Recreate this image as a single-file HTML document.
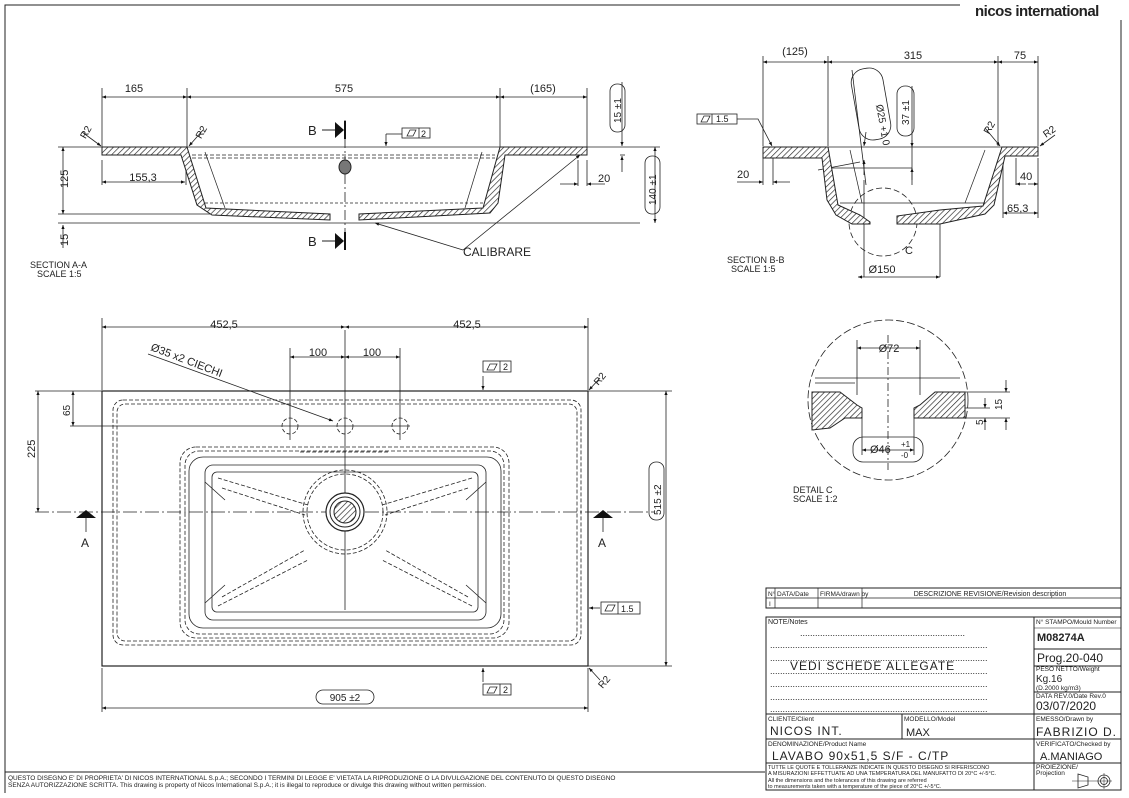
<!DOCTYPE html>
<html><head><meta charset="utf-8"><style>
html,body{margin:0;padding:0;background:#fff;}
svg{display:block;}
text{font-family:"Liberation Sans",sans-serif;fill:#222;}
</style></head><body>
<svg width="1129" height="798" viewBox="0 0 1129 798" xmlns="http://www.w3.org/2000/svg">
<defs>
<pattern id="h" width="4" height="4" patternUnits="userSpaceOnUse" patternTransform="rotate(45)"><rect width="4" height="4" fill="#fff"/><line x1="0" y1="0" x2="0" y2="4" stroke="#222" stroke-width="1.3"/></pattern>
<marker id="a" viewBox="0 0 10 10" refX="10" refY="5" markerWidth="7" markerHeight="5" orient="auto-start-reverse"><path d="M0,1 L10,5 L0,9z" fill="#111"/></marker>
</defs>
<g stroke="#222" fill="none" stroke-width="1">
<path d="M5,793 V5 H960"/>
<path d="M1121,20 V770"/>
<line x1="5" y1="772" x2="765" y2="772"/>
</g>
<text x="975" y="16" font-size="15" font-weight="bold" style="letter-spacing:-0.5px">nicos international</text>

<!-- ===== SECTION A-A ===== -->
<g stroke="#222" stroke-width="0.8" fill="none">
<line x1="102" y1="88" x2="102" y2="150"/><line x1="187" y1="88" x2="187" y2="150"/><line x1="500" y1="88" x2="500" y2="150"/><line x1="587" y1="88" x2="587" y2="150"/>
<line x1="102" y1="97" x2="187" y2="97" marker-start="url(#a)" marker-end="url(#a)"/>
<line x1="187" y1="97" x2="500" y2="97" marker-start="url(#a)" marker-end="url(#a)"/>
<line x1="500" y1="97" x2="587" y2="97" marker-start="url(#a)" marker-end="url(#a)"/>
<line x1="102" y1="182" x2="185" y2="182" marker-start="url(#a)" marker-end="url(#a)"/>
<line x1="102" y1="160" x2="102" y2="185"/><line x1="186" y1="160" x2="186" y2="185"/>
<line x1="58" y1="147" x2="102" y2="147"/><line x1="58" y1="214" x2="210" y2="214"/><line x1="58" y1="223" x2="640" y2="223"/>
<line x1="63" y1="147" x2="63" y2="214" marker-start="url(#a)" marker-end="url(#a)"/>
<line x1="63" y1="225" x2="63" y2="248" marker-start="url(#a)"/>
<line x1="587" y1="147" x2="660" y2="147"/>
<line x1="655" y1="147" x2="655" y2="223" marker-start="url(#a)" marker-end="url(#a)"/>
<line x1="620" y1="155" x2="625" y2="155"/>
<line x1="622" y1="82" x2="622" y2="146" marker-end="url(#a)"/><line x1="622" y1="172" x2="622" y2="156" marker-end="url(#a)"/>
<line x1="578" y1="160" x2="578" y2="186"/><line x1="587" y1="160" x2="587" y2="186"/>
<line x1="560" y1="184" x2="578" y2="184" marker-end="url(#a)"/><line x1="605" y1="184" x2="587" y2="184" marker-end="url(#a)"/>
<line x1="345" y1="120" x2="345" y2="250" stroke-dasharray="10,3,2,3"/>
<line x1="82" y1="132" x2="101" y2="146" marker-end="url(#a)"/><line x1="203" y1="130" x2="189" y2="146" marker-end="url(#a)"/>
<path d="M386,134 V146" marker-end="url(#a)"/><line x1="386" y1="134" x2="402" y2="134"/>
<path d="M463,250 L375,223" marker-end="url(#a)"/><path d="M463,250 L580,155" marker-end="url(#a)"/>
<rect x="402" y="128" width="28" height="10"/><line x1="419" y1="128" x2="419" y2="138"/>
<path d="M407,136 L410,130 H416 L413,136z"/>
<rect x="610" y="84" width="15" height="48" rx="7"/><rect x="645" y="156" width="15" height="58" rx="7"/>
</g>
<path d="M102,147 H187 L206,208 L330,214 L330,220 L212,215 L197,205 L181,155 H102z" fill="url(#h)" stroke="#222" stroke-width="1"/>
<path d="M587,147 H500 L483,208 L359,214 L359,220 L490,213 L498,203 L505,155 H587z" fill="url(#h)" stroke="#222" stroke-width="1"/>
<g stroke="#222" stroke-width="0.7" fill="none">
<line x1="187" y1="147" x2="500" y2="147"/>
<path d="M192,155 H495" stroke-dasharray="4,2"/><path d="M192,158 H495" stroke-dasharray="4,2"/>
<line x1="205" y1="152" x2="225" y2="208"/><line x1="482" y1="152" x2="465" y2="208"/>
<line x1="205" y1="203" x2="485" y2="203" stroke-dasharray="3,2"/>
</g>
<ellipse cx="345" cy="167" rx="6" ry="7" fill="#777" stroke="#222"/>
<path d="M335,122 L344,130 L335,138z" fill="#111"/><line x1="345" y1="121" x2="345" y2="139" stroke="#111" stroke-width="2"/><line x1="322" y1="130" x2="335" y2="130" stroke="#222"/>
<path d="M335,233 L344,241 L335,249z" fill="#111"/><line x1="345" y1="232" x2="345" y2="250" stroke="#111" stroke-width="2"/><line x1="322" y1="241" x2="335" y2="241" stroke="#222"/>
<g font-size="11">
<text x="134" y="92" text-anchor="middle">165</text><text x="344" y="92" text-anchor="middle">575</text><text x="543" y="92" text-anchor="middle">(165)</text>
<text x="143" y="181" text-anchor="middle">155,3</text>
<text x="598" y="182">20</text>
<text x="463" y="256" font-size="12">CALIBRARE</text>
<text x="308" y="135" font-size="13">B</text><text x="308" y="246" font-size="13">B</text>
<text x="421" y="137" font-size="9">2</text>
<text x="83" y="135" font-size="10" transform="rotate(-60 88 135)">R2</text>
<text x="195" y="137" font-size="10" transform="rotate(-60 200 133)">R2</text>
<text x="68" y="188" transform="rotate(-90 68 188)">125</text>
<text x="68" y="246" transform="rotate(-90 68 246)">15</text>
<text x="621" y="123" transform="rotate(-90 621 123)" font-size="10">15 ±1</text>
<text x="656" y="205" transform="rotate(-90 656 205)" font-size="10">140 ±1</text>
<text x="30" y="268" font-size="9">SECTION A-A</text><text x="37" y="277" font-size="9">SCALE 1:5</text>
</g>

<!-- ===== SECTION B-B ===== -->
<g stroke="#222" stroke-width="0.8" fill="none">
<line x1="763" y1="56" x2="763" y2="146"/><line x1="828" y1="56" x2="828" y2="146"/><line x1="998" y1="56" x2="998" y2="146"/><line x1="1038" y1="56" x2="1038" y2="146"/>
<line x1="763" y1="62" x2="828" y2="62" marker-start="url(#a)" marker-end="url(#a)"/>
<line x1="828" y1="62" x2="998" y2="62" marker-start="url(#a)" marker-end="url(#a)"/>
<line x1="998" y1="62" x2="1038" y2="62" marker-start="url(#a)" marker-end="url(#a)"/>
<line x1="763" y1="158" x2="763" y2="185"/><line x1="773" y1="158" x2="773" y2="185"/>
<line x1="737" y1="182" x2="763" y2="182" marker-end="url(#a)"/><line x1="790" y1="182" x2="773" y2="182" marker-end="url(#a)"/>
<line x1="1016" y1="158" x2="1016" y2="185"/><line x1="1026" y1="184" x2="1016" y2="184" marker-end="url(#a)"/><line x1="1028" y1="184" x2="1038" y2="184" marker-end="url(#a)"/>
<line x1="1038" y1="158" x2="1038" y2="218"/><line x1="1003" y1="158" x2="1003" y2="218"/>
<line x1="1003" y1="213" x2="1038" y2="213" marker-start="url(#a)" marker-end="url(#a)"/>
<line x1="864" y1="180" x2="864" y2="277"/><line x1="940" y1="222" x2="940" y2="277"/>
<line x1="858" y1="277" x2="940" y2="277" marker-start="url(#a)" marker-end="url(#a)"/>
<circle cx="883" cy="222" r="34" stroke-dasharray="6,3"/>
<line x1="852" y1="70" x2="866" y2="185"/><line x1="866" y1="132" x2="864" y2="146" marker-end="url(#a)"/><line x1="864" y1="175" x2="864" y2="160" marker-end="url(#a)"/>
<line x1="912" y1="86" x2="912" y2="185"/><line x1="912" y1="140" x2="912" y2="147" marker-end="url(#a)"/><line x1="912" y1="180" x2="912" y2="168" marker-end="url(#a)"/>
<line x1="830" y1="168" x2="912" y2="168"/><line x1="818" y1="170" x2="860" y2="162"/>
<rect x="855" y="68" width="32" height="72" rx="14" transform="rotate(-10 871 104)"/>
<rect x="897" y="86" width="17" height="50" rx="8"/>
<rect x="697" y="114" width="40" height="10"/><line x1="712" y1="114" x2="712" y2="124"/><path d="M701,122 L704,116 H710 L707,122z"/>
<path d="M737,119 H758 L772,146" marker-end="url(#a)"/>
<line x1="985" y1="128" x2="1000" y2="146" marker-end="url(#a)"/><line x1="1055" y1="135" x2="1040" y2="146" marker-end="url(#a)"/>
</g>
<path d="M763,147 H828 L838,205 L860,215 L870,222 L870,224 L852,224 L836,215 L827,200 L822,158 H763z" fill="url(#h)" stroke="#222"/>
<path d="M1038,147 H1002 L983,206 L940,210 L897,216 L897,224 L940,224 L985,214 L994,205 L1005,156 H1038z" fill="url(#h)" stroke="#222"/>
<g stroke="#222" stroke-width="0.7" fill="none"><line x1="828" y1="147" x2="1002" y2="147"/><line x1="840" y1="203" x2="985" y2="203"/><line x1="850" y1="150" x2="862" y2="203"/><line x1="985" y1="150" x2="965" y2="203"/></g>
<g font-size="11">
<text x="795" y="55" text-anchor="middle">(125)</text><text x="913" y="59" text-anchor="middle">315</text><text x="1020" y="59" text-anchor="middle">75</text>
<text x="737" y="178">20</text><text x="1020" y="180">40</text><text x="1007" y="212">65,3</text>
<text x="905" y="254">C</text><text x="882" y="273" text-anchor="middle">Ø150</text>
<text x="716" y="122" font-size="9">1.5</text>
<text x="876" y="105" font-size="10" transform="rotate(80 876 105)">Ø25 +1 0</text>
<text x="909" y="125" font-size="10" transform="rotate(-90 909 125)">37 ±1</text>
<text x="988" y="133" font-size="10" transform="rotate(-60 990 133)">R2</text>
<text x="1046" y="138" font-size="10" transform="rotate(-35 1046 138)">R2</text>
<text x="727" y="263" font-size="9">SECTION B-B</text><text x="731" y="272" font-size="9">SCALE 1:5</text>
</g>

<!-- ===== DETAIL C ===== -->
<g stroke="#222" stroke-width="0.8" fill="none">
<circle cx="888" cy="400" r="80" stroke-dasharray="8,3"/>
<line x1="857" y1="340" x2="857" y2="395"/><line x1="920" y1="340" x2="920" y2="395"/>
<line x1="857" y1="348" x2="920" y2="348" marker-start="url(#a)" marker-end="url(#a)"/>
<line x1="862" y1="415" x2="862" y2="455"/><line x1="914" y1="415" x2="914" y2="455"/>
<line x1="862" y1="450" x2="914" y2="450" marker-start="url(#a)" marker-end="url(#a)"/>
<rect x="853" y="437" width="70" height="25" rx="10"/>
<line x1="960" y1="392" x2="1010" y2="392"/><line x1="960" y1="418" x2="1010" y2="418"/><line x1="960" y1="408" x2="990" y2="408"/>
<line x1="1006" y1="380" x2="1006" y2="392" marker-end="url(#a)"/><line x1="1006" y1="430" x2="1006" y2="418" marker-end="url(#a)"/>
<line x1="985" y1="398" x2="985" y2="408" marker-end="url(#a)"/><line x1="985" y1="430" x2="985" y2="418" marker-end="url(#a)"/>
<line x1="815" y1="378" x2="960" y2="378"/><line x1="815" y1="383" x2="855" y2="383"/>
<line x1="888" y1="335" x2="888" y2="470" stroke-dasharray="8,3,2,3"/>
</g>
<path d="M812,392 L840,392 L857,405 L862,408 L862,418 L845,418 L830,428 L812,430z" fill="url(#h)" stroke="#222"/>
<path d="M965,392 L935,392 L920,405 L914,408 L914,418 L930,418 L965,418z" fill="url(#h)" stroke="#222"/>
<g font-size="11">
<text x="889" y="352" text-anchor="middle">Ø72</text>
<text x="870" y="453">Ø46</text><text x="901" y="447" font-size="8">+1</text><text x="901" y="458" font-size="8">-0</text>
<text x="1002" y="410" transform="rotate(-90 1002 410)" font-size="10">15</text>
<text x="983" y="425" transform="rotate(-90 983 425)" font-size="10">5</text>
<text x="793" y="493" font-size="9">DETAIL C</text><text x="793" y="502" font-size="9">SCALE 1:2</text>
</g>

<!-- ===== PLAN VIEW ===== -->
<g stroke="#222" stroke-width="0.8" fill="none">
<rect x="102" y="391" width="486" height="275" stroke-width="1.2"/>
<rect x="113" y="400" width="468" height="245" rx="10" stroke-dasharray="4,2"/>
<rect x="117" y="404" width="460" height="237" rx="8" stroke-dasharray="4,2"/>
<rect x="180" y="447" width="329" height="191" rx="16" stroke-dasharray="4,2"/>
<rect x="185" y="451" width="319" height="183" rx="14" stroke-dasharray="4,2"/>
<rect x="189" y="457" width="312" height="171" rx="14"/>
<rect x="205" y="465" width="281" height="155" rx="8"/>
<rect x="212" y="472" width="266" height="140" rx="5"/>
<line x1="205" y1="482" x2="225" y2="500"/><line x1="486" y1="482" x2="466" y2="500"/><line x1="205" y1="603" x2="225" y2="585"/><line x1="486" y1="603" x2="466" y2="585"/>
<g stroke-dasharray="4,2">
<circle cx="345" cy="512" r="42"/><circle cx="345" cy="512" r="38"/>
<path d="M218,478 L308,505 M222,488 L305,515 M218,606 L308,560 M222,597 L305,550 M472,478 L382,505 M468,488 L385,515 M472,606 L382,560 M468,597 L385,550"/>
<circle cx="290" cy="426" r="8"/><circle cx="345" cy="426" r="8"/><circle cx="400" cy="426" r="8"/>
<path d="M300,452 H390"/>
</g>
<line x1="35" y1="512" x2="655" y2="512" stroke-dasharray="14,3,2,3"/>
<line x1="345" y1="330" x2="345" y2="610"/>
<line x1="102" y1="318" x2="102" y2="390"/><line x1="588" y1="318" x2="588" y2="390"/>
<line x1="102" y1="327" x2="345" y2="327" marker-start="url(#a)" marker-end="url(#a)"/>
<line x1="345" y1="327" x2="588" y2="327" marker-start="url(#a)" marker-end="url(#a)"/>
<line x1="290" y1="348" x2="290" y2="440"/><line x1="400" y1="348" x2="400" y2="440"/>
<line x1="290" y1="357" x2="345" y2="357" marker-start="url(#a)" marker-end="url(#a)"/>
<line x1="345" y1="357" x2="400" y2="357" marker-start="url(#a)" marker-end="url(#a)"/>
<line x1="148" y1="354" x2="333" y2="421" marker-end="url(#a)"/>
<line x1="35" y1="391" x2="102" y2="391"/><line x1="70" y1="426" x2="410" y2="426"/>
<line x1="38" y1="391" x2="38" y2="512" marker-start="url(#a)" marker-end="url(#a)"/>
<line x1="73" y1="391" x2="73" y2="426" marker-start="url(#a)" marker-end="url(#a)"/>
<line x1="588" y1="391" x2="672" y2="391"/><line x1="588" y1="666" x2="672" y2="666"/>
<line x1="666" y1="391" x2="666" y2="666" marker-start="url(#a)" marker-end="url(#a)"/>
<rect x="649" y="462" width="15" height="58" rx="7"/>
<line x1="102" y1="668" x2="102" y2="712"/><line x1="588" y1="668" x2="588" y2="712"/>
<line x1="102" y1="708" x2="588" y2="708" marker-start="url(#a)" marker-end="url(#a)"/>
<rect x="316" y="690" width="58" height="14" rx="7"/>
<line x1="483" y1="376" x2="483" y2="390" marker-end="url(#a)"/><rect x="483" y="361" width="28" height="11"/><line x1="500" y1="361" x2="500" y2="372"/><path d="M487,370 L490,364 H497 L494,370z"/>
<line x1="483" y1="682" x2="483" y2="668" marker-end="url(#a)"/><rect x="483" y="684" width="28" height="11"/><line x1="500" y1="684" x2="500" y2="695"/><path d="M487,693 L490,687 H497 L494,693z"/>
<line x1="600" y1="608" x2="589" y2="608" marker-end="url(#a)"/><rect x="601" y="602" width="39" height="12"/><line x1="618" y1="602" x2="618" y2="614"/><path d="M605,611 L608,605 H615 L612,611z"/>
<line x1="600" y1="378" x2="589" y2="390" marker-end="url(#a)"/><line x1="600" y1="680" x2="589" y2="668" marker-end="url(#a)"/>
<line x1="86" y1="518" x2="86" y2="532"/><line x1="603" y1="518" x2="603" y2="532"/>
</g>
<path d="M76,518 L96,518 L86,510z" fill="#111"/><path d="M593,518 L613,518 L603,510z" fill="#111"/>
<ellipse cx="345" cy="512" rx="19" ry="19" fill="#fff" stroke="#222" stroke-width="1.2"/>
<circle cx="345" cy="512" r="15" fill="none" stroke="#222"/>
<circle cx="345" cy="512" r="11" fill="url(#h)" stroke="#222"/>
<g font-size="11">
<text x="224" y="328" text-anchor="middle">452,5</text><text x="467" y="328" text-anchor="middle">452,5</text>
<text x="318" y="356" text-anchor="middle">100</text><text x="372" y="356" text-anchor="middle">100</text>
<text x="150" y="350" transform="rotate(21 150 350)">Ø35 x2 CIECHI</text>
<text x="35" y="458" transform="rotate(-90 35 458)">225</text>
<text x="70" y="416" transform="rotate(-90 70 416)" font-size="10">65</text>
<text x="81" y="547" font-size="12">A</text><text x="598" y="547" font-size="12">A</text>
<text x="661" y="515" transform="rotate(-90 661 515)" font-size="10">515 ±2</text>
<text x="345" y="701" text-anchor="middle" font-size="10">905 ±2</text>
<text x="503" y="370" font-size="9">2</text><text x="503" y="693" font-size="9">2</text><text x="621" y="612" font-size="9">1.5</text>
<text x="596" y="385" font-size="10" transform="rotate(-50 598 383)">R2</text>
<text x="597" y="687" font-size="10" transform="rotate(-50 602 682)">R2</text>
</g>

<!-- ===== TITLE BLOCK ===== -->
<g stroke="#222" fill="none" stroke-width="1">
<rect x="766" y="588" width="355" height="20"/>
<line x1="766" y1="598" x2="1121" y2="598" stroke-width="0.7"/>
<line x1="775" y1="588" x2="775" y2="608" stroke-width="0.7"/><line x1="818" y1="588" x2="818" y2="608" stroke-width="0.7"/><line x1="862" y1="588" x2="862" y2="608" stroke-width="0.7"/>
<rect x="766" y="617" width="355" height="173"/>
<line x1="1034" y1="617" x2="1034" y2="790"/>
<line x1="766" y1="714" x2="1121" y2="714"/><line x1="766" y1="739" x2="1121" y2="739"/><line x1="766" y1="763" x2="1121" y2="763"/>
<line x1="902" y1="714" x2="902" y2="739"/>
<line x1="1034" y1="649" x2="1121" y2="649"/><line x1="1034" y1="666" x2="1121" y2="666"/><line x1="1034" y1="692" x2="1121" y2="692"/>
<line x1="1034" y1="628" x2="1121" y2="628" stroke-width="0.5"/>
<path d="M1078,774 L1088,777 V785 L1078,788z" stroke-width="0.8"/><line x1="1072" y1="781" x2="1096" y2="781" stroke-width="0.6"/>
<circle cx="1104" cy="781" r="6" stroke-width="0.8"/><circle cx="1104" cy="781" r="3.5" stroke-width="0.8"/><line x1="1096" y1="781" x2="1112" y2="781" stroke-width="0.5"/><line x1="1104" y1="773" x2="1104" y2="789" stroke-width="0.5"/>
</g>
<g font-size="6.5">
<text x="768" y="596">N°</text><text x="777" y="596">DATA/Date</text><text x="820" y="596">FIRMA/drawn by</text>
<text x="990" y="596" text-anchor="middle" font-size="7">DESCRIZIONE REVISIONE/Revision description</text>
<text x="769" y="606">I</text>
<text x="768" y="624" font-size="7">NOTE/Notes</text>
<text x="1036" y="624">N° STAMPO/Mould Number</text>
<text x="1036" y="671">PESO NETTO/Weight</text>
<text x="1036" y="690">(D.2000 kg/m3)</text>
<text x="1036" y="698">DATA REV.0/Date Rev.0</text>
<text x="768" y="721">CLIENTE/Client</text><text x="904" y="721">MODELLO/Model</text><text x="1036" y="721">EMESSO/Drawn by</text>
<text x="768" y="746">DENOMINAZIONE/Product Name</text><text x="1036" y="746">VERIFICATO/Checked by</text>
<text x="1036" y="769">PROIEZIONE/</text><text x="1036" y="775">Projection</text>
<text x="768" y="769" font-size="5.5">TUTTE LE QUOTE E TOLLERANZE INDICATE IN QUESTO DISEGNO SI RIFERISCONO</text>
<text x="768" y="775" font-size="5.5">A MISURAZIONI EFFETTUATE AD UNA TEMPERATURA DEL MANUFATTO DI 20°C +/-5°C.</text>
<text x="768" y="782" font-size="5.5">All the dimensions and the tolerances of this drawing are referred</text>
<text x="768" y="788" font-size="5.5">to measurements taken with a temperature of the piece of 20°C +/-5°C.</text>
</g>
<g font-size="9" fill="#333">
<text x="800" y="636">..................................................................</text>
<text x="770" y="648">.......................................................................................</text>
<text x="770" y="661">.......................................................................................</text>
<text x="770" y="674">.......................................................................................</text>
<text x="770" y="687">.......................................................................................</text>
<text x="770" y="700">.......................................................................................</text>
<text x="770" y="712">.......................................................................................</text>
</g>
<text x="790" y="670" font-size="12" style="letter-spacing:1px">VEDI SCHEDE ALLEGATE</text>
<text x="1037" y="641" font-size="11" font-weight="bold">M08274A</text>
<text x="1037" y="662" font-size="12">Prog.20-040</text>
<text x="1036" y="682" font-size="10">Kg.16</text>
<text x="1036" y="710" font-size="12">03/07/2020</text>
<text x="770" y="735" font-size="12" style="letter-spacing:1px">NICOS INT.</text>
<text x="906" y="736" font-size="11">MAX</text>
<text x="1036" y="736" font-size="12" style="letter-spacing:1px">FABRIZIO D.</text>
<text x="772" y="760" font-size="12" style="letter-spacing:1px">LAVABO 90x51,5 S/F - C/TP</text>
<text x="1040" y="760" font-size="11">A.MANIAGO</text>
<text x="8" y="780" font-size="6.5">QUESTO DISEGNO E' DI PROPRIETA' DI NICOS INTERNATIONAL S.p.A.; SECONDO I TERMINI DI LEGGE E' VIETATA LA RIPRODUZIONE O LA DIVULGAZIONE DEL CONTENUTO DI QUESTO DISEGNO</text>
<text x="8" y="787" font-size="6.5">SENZA AUTORIZZAZIONE SCRITTA. This drawing is property of Nicos International S.p.A.; it is illegal to reproduce or divulge this drawing without written permission.</text>
</svg>
</body></html>
